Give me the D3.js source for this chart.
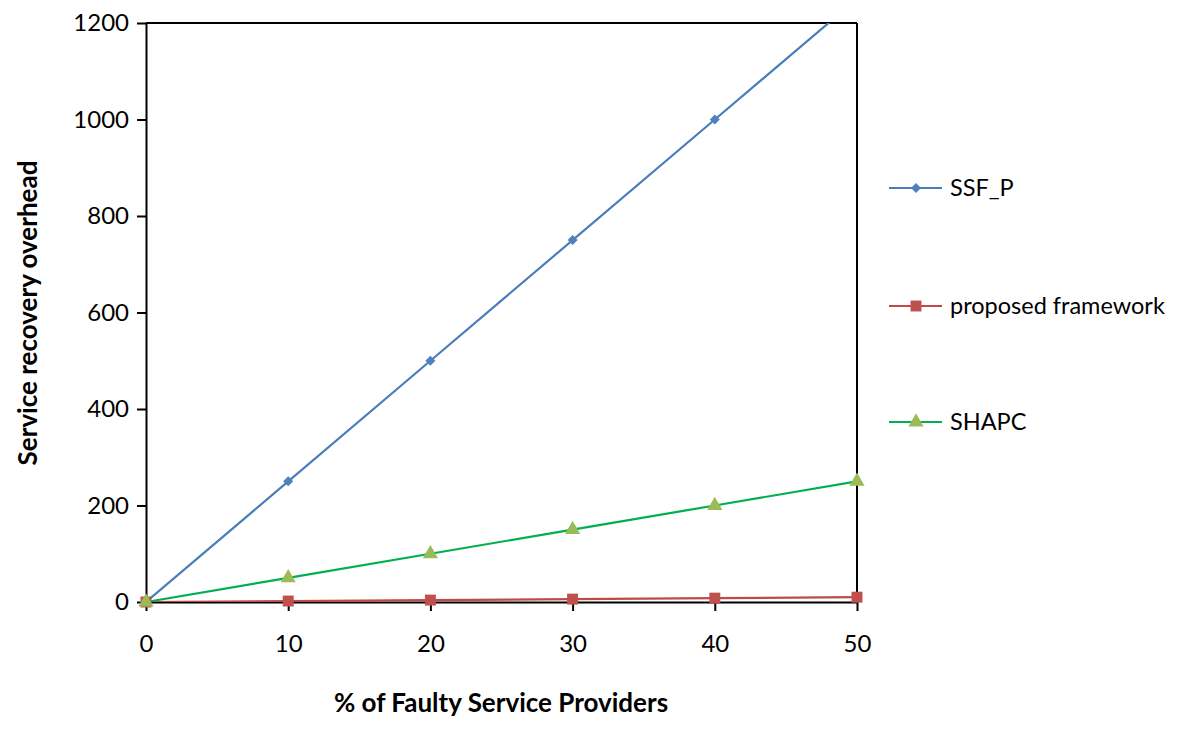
<!DOCTYPE html>
<html>
<head>
<meta charset="utf-8">
<script src="https://cdn.jsdelivr.net/npm/d3@7"></script>
<style>
  body { margin: 0; background: #fff; }
  text { font-family: Lato, "Open Sans", sans-serif; }
</style>
</head>
<body>
<div id="chart-area"></div>
<script>
// Data
var xValues = [0, 10, 20, 30, 40, 50];
var ssfP = [0, 250, 500, 750, 1000, 1250];
var proposed = [0, 2, 4, 6, 8, 10];
var shapc = [0, 50, 100, 150, 200, 250];
var yTicks = [0, 200, 400, 600, 800, 1000, 1200];
var seriesNames = ["SSF_P", "proposed framework", "SHAPC"];

var margin = { left: 146, right: 343, top: 23, bottom: 138 };
var width = 1200 - margin.left - margin.right,
    height = 740 - margin.top - margin.bottom;

var svg = d3.select("#chart-area")
    .append("svg")
        .attr("width", 1200)
        .attr("height", 740);

var g = svg.append("g")
    .attr("transform", "translate(" + margin.left + "," + margin.top + ")");

var x = d3.scaleLinear().domain([0, 50]).range([0, width]);
var y = d3.scaleLinear().domain([0, 1200]).range([height, 0]);

g.append("clipPath").attr("id", "clip")
  .append("rect").attr("width", width).attr("height", height);

// Axes
var xAxis = g.append("g")
    .attr("transform", "translate(0," + height + ")")
    .call(d3.axisBottom(x).tickValues(xValues).tickFormat(d3.format("d")).tickSize(9).tickSizeOuter(0));
var yAxis = g.append("g")
    .call(d3.axisLeft(y).tickValues(yTicks).tickFormat(d3.format("d")).tickSize(9).tickSizeOuter(0));

[xAxis, yAxis].forEach(function(a) {
    a.attr("font-size", null);
    a.selectAll("path, line").attr("stroke", "#000").attr("stroke-width", 2);
    a.selectAll("text").attr("font-size", "24px").attr("fill", "#000")
        .style("font-family", "Lato, 'Open Sans', sans-serif");
});
xAxis.selectAll("text").attr("dy", "1.6em");
yAxis.selectAll("text").attr("x", -17);

// box border top / right
g.append("line").attr("x1", 0).attr("x2", width).attr("y1", 0).attr("y2", 0)
    .attr("stroke", "#000").attr("stroke-width", 2);
g.append("line").attr("x1", width).attr("x2", width).attr("y1", 0).attr("y2", height)
    .attr("stroke", "#000").attr("stroke-width", 2);

// diamond drawn as a square turned 45 degrees
var series = [
    { name: seriesNames[0], values: ssfP, line: "#4a7ebb", fill: "#4f81bd", shape: d3.symbolSquare, size: 50, rot: 45 },
    { name: seriesNames[1], values: proposed, line: "#be4b48", fill: "#c0504d", shape: d3.symbolSquare, size: 120, rot: 0 },
    { name: seriesNames[2], values: shapc, line: "#00b050", fill: "#9bbb59", shape: d3.symbolTriangle, size: 100, rot: 0 }
];

var line = d3.line()
    .x(function(d, i) { return x(xValues[i]); })
    .y(function(d) { return y(d); });

var plot = g.append("g").attr("clip-path", "url(#clip)");

series.forEach(function(s) {
    plot.append("path")
        .attr("d", line(s.values))
        .attr("fill", "none")
        .attr("stroke", s.line)
        .attr("stroke-width", 2.2);
});

series.forEach(function(s) {
    g.selectAll(null)
        .data(s.values.filter(function(d) { return d <= 1200; }))
        .enter()
        .append("path")
            .attr("d", d3.symbol().type(s.shape).size(s.size))
            .attr("transform", function(d, i) {
                return "translate(" + x(xValues[i]) + "," + y(d) + ") rotate(" + s.rot + ")";
            })
            .attr("fill", s.fill);
});

// Legend
var legendY = [188, 306, 422];
series.forEach(function(s, i) {
    var lg = svg.append("g").attr("transform", "translate(889," + legendY[i] + ")");
    lg.append("line").attr("x1", 0).attr("x2", 53)
        .attr("stroke", s.line).attr("stroke-width", 2.2);
    lg.append("path")
        .attr("d", d3.symbol().type(s.shape).size(s.size))
        .attr("transform", "translate(27,0) rotate(" + s.rot + ")")
        .attr("fill", s.fill);
    lg.append("text")
        .attr("x", 61)
        .attr("dy", "0.35em")
        .attr("font-size", "23.5px")
        .text(s.name);
});

// X Label
svg.append("text")
    .attr("x", 501)
    .attr("y", 712)
    .attr("font-size", "26px")
    .attr("font-weight", "bold")
    .attr("text-anchor", "middle")
    .text("% of Faulty Service Providers");

// Y Label
svg.append("text")
    .attr("transform", "rotate(-90)")
    .attr("x", -313)
    .attr("y", 37)
    .attr("font-size", "26px")
    .attr("font-weight", "bold")
    .attr("text-anchor", "middle")
    .text("Service recovery overhead");
</script>
</body>
</html>
